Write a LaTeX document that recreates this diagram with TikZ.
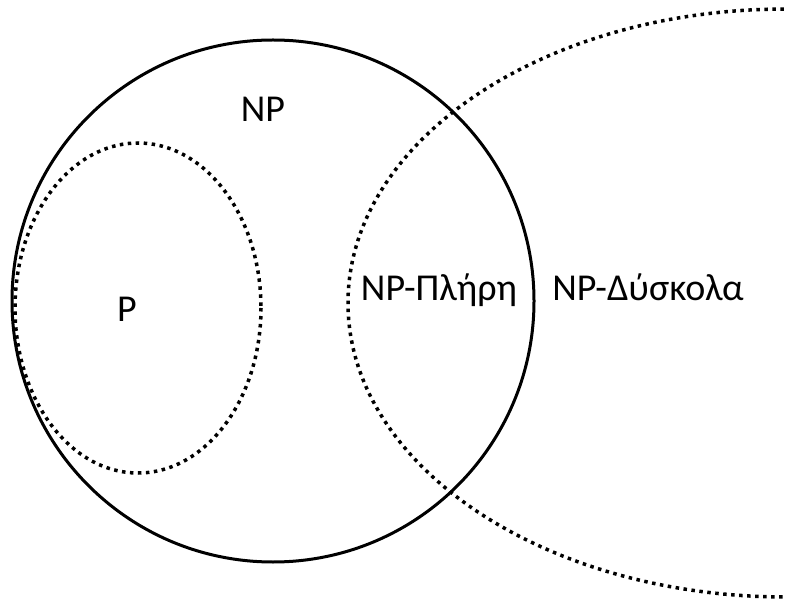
\documentclass[tikz,border=0pt]{standalone}
\usepackage{fontspec}
\setmainfont{Carlito}
\usetikzlibrary{calc}
\tikzset{
  solid set/.style = {line width=3pt},
  dotted set/.style = {line width=3.5pt, dash pattern=on 3.5pt off 4.5pt}
}
\tikzset{
  every node/.style = {font = \fontsize{38}{44}\selectfont, anchor=base, inner sep=0pt}
}

\begin{document}
\begin{tikzpicture}[x=1pt, y=-1pt]
  \useasboundingbox (0,0) rectangle (787,601);
  \clip (0,0) rectangle (787,601);

  % NP
  \draw[solid set] (273,301) circle [radius=261];
  % P
  \draw[dotted set] (138,308) ellipse [x radius=123, y radius=165];
  % NP-hard
  \draw[dotted set] (786,303) ellipse [x radius=438, y radius=294];

  \node (np) at (263,122) {NP};
  \node (p) at (127,322) {P};
  \node (npc) at (439,301) {NP-Πλήρη};
  \node (nph) at (648,301) {NP-Δύσκολα};
\end{tikzpicture}
\end{document}
